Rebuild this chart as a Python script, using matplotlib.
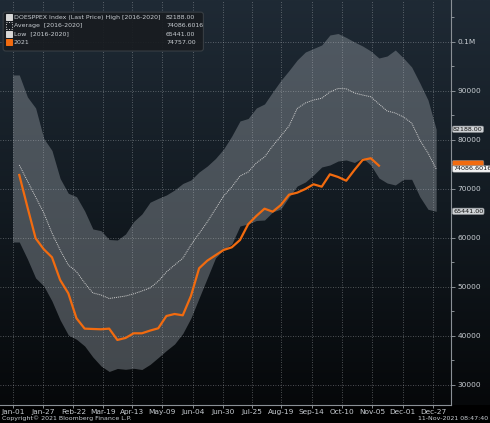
import numpy as np
import pandas as pd
import matplotlib
matplotlib.use("Agg")
import matplotlib.pyplot as plt
from matplotlib import font_manager
from matplotlib.patches import Rectangle, FancyBboxPatch

# weekly seasonality data
high = [93270, 88780, 86530, 80310, 77860, 72140, 69120, 68430, 65510, 61840,
        61490, 59690, 59590, 60820, 63370, 64900, 67300, 68080, 68780, 69800,
        71120, 71840, 73470, 74690, 76220, 78160, 80820, 83880, 84390, 86530,
        87350, 89800, 92140, 94180, 96330, 97960, 98670, 99390, 101430, 101730,
        100920, 100000, 99180, 98160, 96730, 97140, 98370, 96730, 94900, 91630,
        88160, 82188.00]
avg = [74900, 71630, 68370, 65100, 61020, 57550, 54490, 53120, 50820, 48780,
       48370, 47650, 47900, 48160, 48610, 49180, 49800, 51170, 53060, 54490,
       55860, 58570, 60920, 63270, 65920, 68570, 70410, 72650, 73470, 75310,
       76530, 78780, 80820, 82860, 86430, 87550, 88160, 88510, 89800, 90510,
       90450, 89590, 89180, 88820, 87350, 85920, 85510, 84690, 83470, 80000,
       77350, 74086.6016]
low = [59180, 55710, 51840, 50200, 47140, 43270, 40200, 39330, 37960, 35710,
       33880, 32760, 33370, 33200, 33410, 33160, 34200, 35600, 37040, 38370,
       40510, 43670, 47760, 51840, 55920, 57650, 58780, 62450, 62860, 63570,
       63670, 65310, 65920, 68370, 70610, 71430, 72860, 74490, 74900, 75710,
       75920, 75410, 76330, 74900, 72240, 71220, 70820, 71980, 71980, 68430,
       65860, 65441.00]
y2021 = [72860, 66300, 59940, 57700, 56060, 51430, 48710, 43610, 41500, 41430,
         41370, 41500, 39190, 39600, 40550, 40550, 41100, 41570, 44080, 44490,
         44220, 48160, 53820, 55370, 56470, 57550, 58100, 59590, 62800, 64490,
         65980, 65370, 66730, 68840, 69250, 70000, 70960, 70470, 73000, 72450,
         71690, 73880, 75920, 76270, 74757.00]

tick_dates = ["2021-01-01", "2021-01-27", "2021-02-22", "2021-03-19", "2021-04-13",
              "2021-05-09", "2021-06-04", "2021-06-30", "2021-07-25", "2021-08-19",
              "2021-09-14", "2021-10-10", "2021-11-05", "2021-12-01", "2021-12-27"]

legend_names = ["DOESPPEX Index (Last Price) High [2016-2020]",
                "Average  [2016-2020]",
                "Low  [2016-2020]",
                "2021"]

ORANGE = "#f26b0f"
BAND = "#8d949b"
TXT = "#c8cdd2"

def pick_font():
    names = {f.name for f in font_manager.fontManager.ttflist}
    for fam, scale in [("Liberation Sans Narrow", 1.2), ("DejaVu Sans Condensed", 1.1)]:
        if fam in names:
            return fam, scale
    return "DejaVu Sans", 1.0

def main():
    fam, k = pick_font()
    plt.rcParams["font.family"] = [fam, "DejaVu Sans"]
    fs_tick = 5.3 * k
    fs_small = 4.5 * k

    days = 5.6 + 7 * np.arange(len(high))
    band_x = np.r_[0.0, days]
    band_hi = np.r_[high[0], high]
    band_lo = np.r_[low[0], low]

    fig = plt.figure(figsize=(4.9, 4.23), dpi=100, facecolor="#000000")

    # gradient background
    bg = fig.add_axes([0, 0.0426, 1, 0.9574])
    grad = np.linspace(1, 0, 256).reshape(-1, 1)
    cmap = matplotlib.colors.LinearSegmentedColormap.from_list("bg", ["#06080a", "#131b22", "#1f2a35"])
    bg.imshow(grad, aspect="auto", cmap=cmap, extent=[0, 1, 0, 1], origin="upper")
    bg.set_axis_off()

    ax = fig.add_axes([0, 0.0426, 0.9204, 0.9574])
    ax.patch.set_alpha(0)

    ax.fill_between(band_x, band_lo, band_hi, color=BAND, alpha=0.45, lw=0, zorder=1)
    ax.plot(days, avg, color="#d0d0d0", lw=0.7, ls=(0, (1, 1)), zorder=3)
    ax.plot(days[:len(y2021)], y2021, color=ORANGE, lw=1.6, zorder=4)

    ax.set_xlim(-10.9, 375.3)
    ax.set_ylim(25920, 108570)

    tick_pos = [pd.Timestamp(d).dayofyear - 1 for d in tick_dates]
    ax.set_xticks(tick_pos)
    ax.set_xticklabels([pd.Timestamp(d).strftime("%b-%d") for d in tick_dates])

    ax.yaxis.tick_right()
    yt = np.arange(30000, 100001, 10000)
    ax.set_yticks(yt)
    ax.set_yticklabels([("0.1M" if v == 100000 else str(v)) for v in yt])
    ax.set_yticks(np.arange(30000, 105001, 5000), minor=True)

    ax.tick_params(axis="both", colors="#9aa0a6", labelcolor=TXT, labelsize=fs_tick, length=3, width=0.6, pad=1.5)
    ax.tick_params(axis="y", which="minor", colors="#9aa0a6", length=2, width=0.6)
    ax.tick_params(axis="x", length=2, pad=1)

    for s in ["top", "left"]:
        ax.spines[s].set_visible(False)
    for s in ["right", "bottom"]:
        ax.spines[s].set_color("#8a9096")
        ax.spines[s].set_linewidth(0.8)

    ax.grid(True, which="major", color="#c0c4c8", alpha=0.5, lw=0.6, ls=(0, (1, 2)))
    ax.set_axisbelow(False)
    for gl in ax.get_xgridlines() + ax.get_ygridlines():
        gl.set_zorder(2)

    # legend box
    lg = FancyBboxPatch((0.007, 0.874), 0.444, 0.096, transform=ax.transAxes,
                        boxstyle="round,pad=0,rounding_size=0.006",
                        fc="#181c20", ec="#3a4046", lw=0.8, alpha=0.92, zorder=6)
    ax.add_patch(lg)
    vals = [high[-1], avg[-1], low[-1], y2021[-1]]
    vtxt = ["%.2f" % vals[0], "%.4f" % vals[1], "%.2f" % vals[2], "%.2f" % vals[3]]
    swatch = [("#d8d8d8", "#d8d8d8", "-"), ("none", "#d8d8d8", ":"), ("#d8d8d8", "#d8d8d8", "-"), (ORANGE, ORANGE, "-")]
    for i, (name, v) in enumerate(zip(legend_names, vtxt)):
        yy = 0.957 - i * 0.0205
        fc, ec, ls = swatch[i]
        ax.add_patch(Rectangle((0.013, yy - 0.007), 0.013, 0.015, transform=ax.transAxes,
                               fc=fc, ec=ec, ls=ls, lw=0.7, zorder=7))
        ax.text(0.03, yy, name, transform=ax.transAxes, fontsize=fs_small, color=TXT,
                va="center", ha="left", zorder=7)
        ax.text(0.368, yy, v, transform=ax.transAxes, fontsize=fs_small, color=TXT,
                va="center", ha="left", zorder=7)

    # last value tags on the right axis
    tags = [(y2021[-1], vtxt[3], ORANGE, ORANGE, 8),
            (high[-1], vtxt[0], "#d0d3d6", "#111111", 9),
            (avg[-1], vtxt[1], "#f2f2f2", "#111111", 9),
            (low[-1], vtxt[2], "#d0d3d6", "#111111", 9)]
    for v, t, fc, tc, z in tags:
        ax.annotate(t, xy=(1.0, v), xycoords=("axes fraction", "data"),
                    xytext=(1.5, 0 if fc != ORANGE else 1.5), textcoords="offset points",
                    fontsize=fs_tick * 0.86, color=tc, va="center", ha="left", annotation_clip=False,
                    bbox=dict(boxstyle="round,pad=0.12,rounding_size=0.25", fc=fc, ec="#808488", lw=0.4),
                    zorder=z)

    fig.text(0.004, 0.004, "Copyright\u00a9 2021 Bloomberg Finance L.P.", fontsize=fs_small, color=TXT, ha="left", va="bottom")
    fig.text(0.997, 0.004, "11-Nov-2021 08:47:40", fontsize=fs_small, color=TXT, ha="right", va="bottom")

    fig.savefig("out.png", dpi=100, facecolor=fig.get_facecolor())

if __name__ == "__main__":
    main()
